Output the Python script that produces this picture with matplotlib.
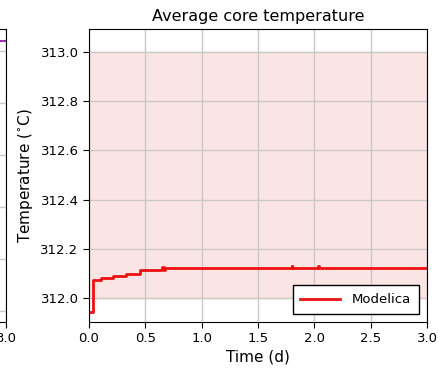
import numpy as np
import matplotlib.pyplot as plt

# core temperature (Modelica), step-wise values
time_d = [0.0, 0.038, 0.11, 0.216, 0.325, 0.45, 0.65, 0.665, 0.675,
          1.795, 1.80, 1.805, 2.03, 2.035, 2.04, 3.0]
temp_c = [311.941, 312.072, 312.082, 312.090, 312.098, 312.112, 312.124, 312.114, 312.121,
          312.121, 312.131, 312.121, 312.121, 312.131, 312.121, 312.121]
band = [312.0, 313.0]
xticks = [0.0, 0.5, 1.0, 1.5, 2.0, 2.5, 3.0]
yticks = [312.0, 312.2, 312.4, 312.6, 312.8, 313.0]

# neighbouring panel (only its right edge is visible)
left_t = [0.0, 3.0]
left_v = [5.18, 5.18]
left_yticks = [0, 1, 2, 3, 4, 5]

plt.rcParams['font.family'] = ['DejaVu Sans']
W, H = 438, 370
fig = plt.figure(figsize=(W / 100, H / 100), dpi=100)

def px_axes(x0, x1, y0, y1):
    return fig.add_axes([x0 / W, 1 - y1 / H, (x1 - x0) / W, (y1 - y0) / H])

# partial left panel, only the "3.0" tick label reaches into view
axl = px_axes(-332, 6, 29, 322)
axl.plot(left_t, left_v, color='#9b30b0', lw=1.5)
axl.set_xlim(0, 3)
axl.set_ylim(-0.21, 5.42)
axl.set_yticks(left_yticks)
axl.set_xticks([3.0])
axl.set_xticklabels(['3.0'])
axl.grid(True, color='#c8c8c8', lw=1)
axl.tick_params(labelsize=9.5, direction='out', length=4, labelleft=False)

ax = px_axes(89, 427, 29, 322)
ax.axhspan(band[0], band[1], color='#fbe4e4', zorder=0)
ax.plot(time_d, temp_c, color='#ee1111', lw=2, drawstyle='steps-post', label='Modelica')
ax.set_xlim(0, 3)
ax.set_ylim(311.902, 313.094)
ax.set_xticks(xticks)
ax.set_yticks(yticks)
ax.set_xticklabels([f'{v:.1f}' for v in xticks])
ax.set_yticklabels([f'{v:.1f}' for v in yticks])
ax.grid(True, color='#c8c8c8', lw=1)
ax.set_axisbelow(True)
ax.tick_params(labelsize=9.5, direction='out', length=4)
ax.set_title('Average core temperature', fontsize=11.5, pad=6)
ax.set_xlabel('Time (d)', fontsize=11, labelpad=3)
ax.set_ylabel(r'Temperature ($^{\circ}$C)', fontsize=11)
leg = ax.legend(loc='lower right', fontsize=9.5, fancybox=False, framealpha=1,
                edgecolor='black', borderaxespad=0.6, handlelength=3.0,
                borderpad=0.6, handletextpad=0.9)
leg.get_frame().set_linewidth(1)

fig.savefig('out.png', dpi=100)
